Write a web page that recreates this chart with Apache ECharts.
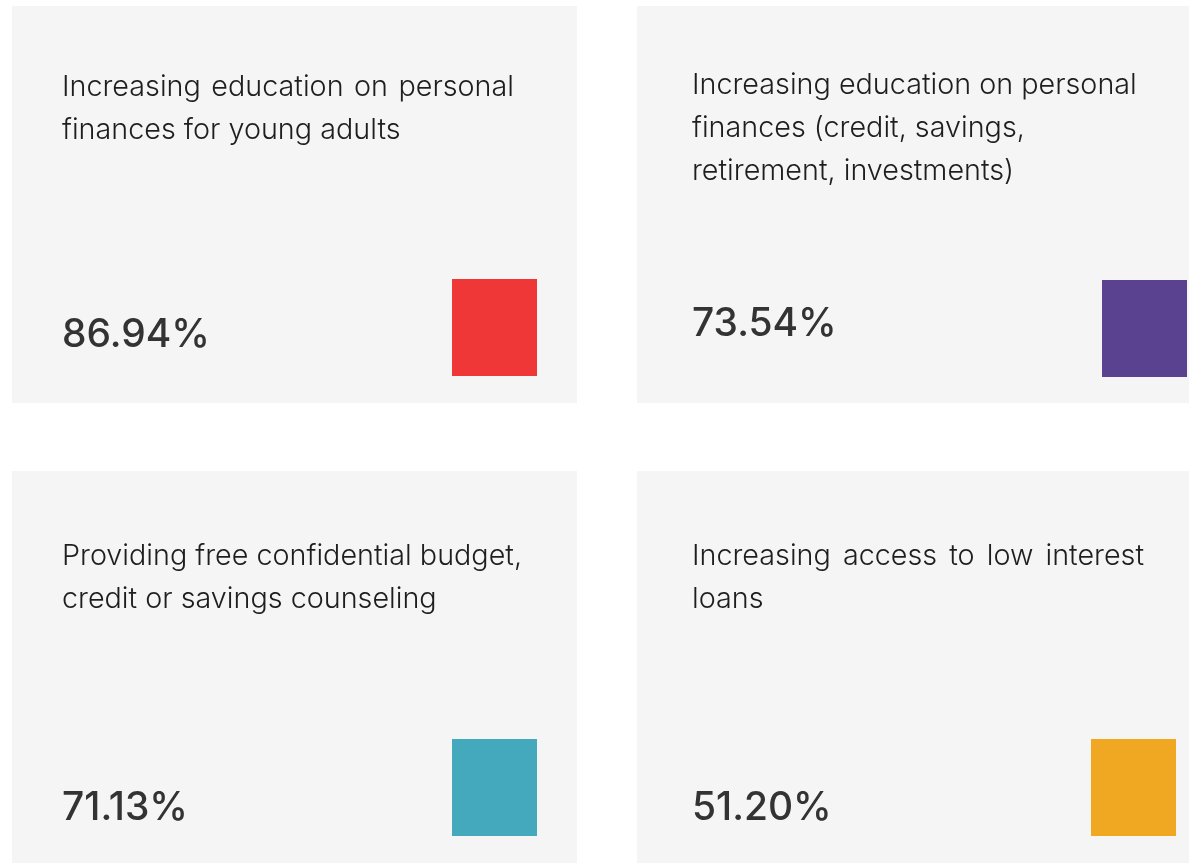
<!DOCTYPE html>
<html>
<head>
<meta charset="utf-8">
<title>Personal finance priorities</title>
<script src="https://cdn.jsdelivr.net/npm/echarts@6/dist/echarts.min.js"></script>
<style>
  html, body { margin: 0; padding: 0; background: #ffffff; }
  #main { width: 1189px; height: 863px; }
</style>
</head>
<body>
<div id="main"></div>
<script>
// data
var labels = [
  ['Increasing education on personal', 'finances for young adults'],
  ['Increasing education on personal', 'finances (credit, savings,', 'retirement, investments)'],
  ['Providing free confidential budget,', 'credit or savings counseling'],
  ['Increasing access to low interest', 'loans']
];
var values = [86.94, 73.54, 71.13, 51.20];
var colors = ['#ef3737', '#5a4290', '#45a9bd', '#f0a722'];
// lines that are stretched to full width (css justify)
var justified = [[true, false], [false, false, false], [false, false], [true, false]];

// card layout
var cards = [
  { x: 12,  y: 6,   w: 565, h: 397, pad: 50, textY: 87,  pctY: 335, sq: [452, 279] },
  { x: 637, y: 6,   w: 560, h: 397, pad: 55, textY: 85,  pctY: 324, sq: [1102, 280] },
  { x: 12,  y: 471, w: 565, h: 400, pad: 50, textY: 556, pctY: 808, sq: [452, 739] },
  { x: 637, y: 471, w: 560, h: 400, pad: 55, textY: 556, pctY: 808, sq: [1091, 739] }
];
var lineH = 43;
var textW = 452;

var fontFamily = 'Inter, "Open Sans", Lato, sans-serif';
var ctx = document.createElement('canvas').getContext('2d');
function measure(s, size, weight) {
  ctx.font = weight + ' ' + size + 'px ' + fontFamily;
  return ctx.measureText(s).width;
}
// scale fonts so line widths come out like the original
var labelSize = 24 * 445 / measure('Increasing education on personal', 24, 300);
var pctSize = 40 * 148 / measure('86.94%', 40, 500);

var chart = echarts.init(document.getElementById('main'));
var elements = [];

cards.forEach(function (c, i) {
  elements.push({
    type: 'rect',
    shape: { x: c.x, y: c.y, width: c.w, height: c.h },
    style: { fill: '#f5f5f5' },
    silent: true
  });

  var left = c.x + c.pad;
  labels[i].forEach(function (line, j) {
    var y = c.textY + j * lineH;
    if (justified[i][j]) {
      var words = line.split(' ');
      var widths = words.map(function (w) { return measure(w, labelSize, 300); });
      var sum = widths.reduce(function (a, b) { return a + b; }, 0);
      var gap = (textW - sum) / (words.length - 1);
      var xx = left;
      words.forEach(function (w, k) {
        elements.push({
          type: 'text',
          style: { text: w, x: xx, y: y, fill: '#1e1e1e', fontSize: labelSize, fontWeight: 300,
                   fontFamily: fontFamily, verticalAlign: 'middle', align: 'left' }
        });
        xx += widths[k] + gap;
      });
    } else {
      elements.push({
        type: 'text',
        style: { text: line, x: left, y: y, fill: '#1e1e1e', fontSize: labelSize, fontWeight: 300,
                 fontFamily: fontFamily, verticalAlign: 'middle', align: 'left' }
      });
    }
  });

  elements.push({
    type: 'text',
    style: { text: values[i].toFixed(2) + '%', x: left, y: c.pctY, fill: '#333333',
             fontSize: pctSize, fontWeight: 500, fontFamily: fontFamily,
             verticalAlign: 'middle', align: 'left' }
  });

  elements.push({
    type: 'rect',
    shape: { x: c.sq[0], y: c.sq[1], width: 85, height: 97 },
    style: { fill: colors[i] }
  });
});

chart.setOption({
  backgroundColor: '#ffffff',
  animation: false,
  graphic: { elements: elements }
});
</script>
</body>
</html>
